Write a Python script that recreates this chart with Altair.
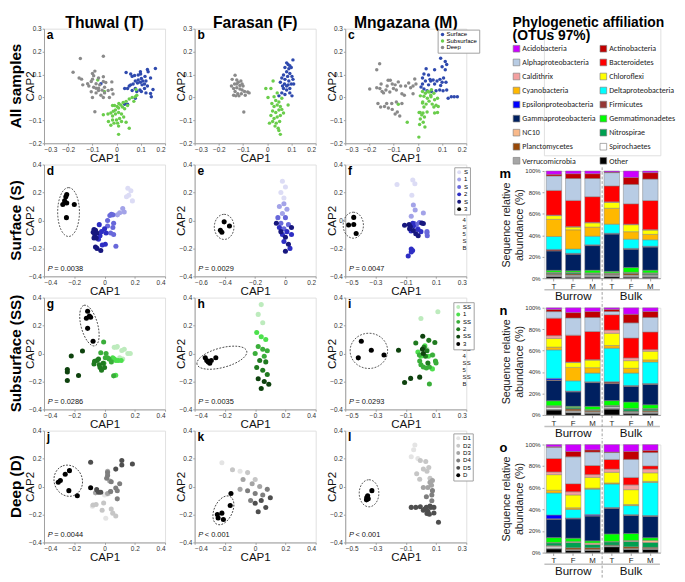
import altair as alt
import pandas as pd

FONT = "Liberation Sans"
NARROW = "Liberation Sans Narrow, Carlito, Liberation Sans"

# ---------------- top row: all samples (a, b, c) ----------------
TOP_CLASSES = ["Surface", "Subsurface", "Deep"]
TOP_COLORS = ["#2F4AAE", "#6ACD4B", "#8A8A8A"]

A_SURFACE = [(0.039,0.109),(0.058,0.102),(0.064,0.092),(0.074,0.096),(0.098,0.112),(0.099,0.102),(0.127,0.122),(0.130,0.112),(0.160,0.126),(0.102,0.083),(0.117,0.092),(0.121,0.072),(0.140,0.085),(0.089,0.076),(0.077,0.072),(0.086,0.063),(0.098,0.066),(0.105,0.055),(0.115,0.059),(0.127,0.050),(0.068,0.059),(0.058,0.055),(0.045,0.039),(0.033,0.039),(0.077,0.039),(0.096,0.033),(0.115,0.039),(0.150,0.035),(0.064,0.030),(0.083,0.026),(0.102,0.026),(0.121,0.020),(0.140,0.017),(0.033,-0.030),(0.045,-0.030),(0.077,-0.003),(0.143,0.003),(0.052,0.050),(0.108,0.072),(0.089,0.098),(-0.065,0.060)]
A_SUBSURFACE = [(-0.078,0.076),(-0.051,0.026),(-0.017,-0.035),(-0.009,-0.035),(0.002,-0.039),(0.009,-0.026),(0.017,-0.033),(0.024,-0.042),(0.027,-0.022),(0.039,-0.017),(0.052,-0.007),(0.064,0.0),(0.077,0.003),(0.071,-0.017),(0.045,-0.035),(0.033,-0.049),(0.008,-0.046),(-0.005,-0.055),(-0.014,-0.060),(-0.024,-0.068),(-0.055,-0.075),(-0.036,-0.072),(-0.017,-0.081),(-0.005,-0.072),(0.008,-0.066),(0.020,-0.072),(0.029,-0.085),(0.012,-0.092),(-0.001,-0.098),(-0.017,-0.098),(-0.034,-0.105),(-0.011,-0.112),(0.004,-0.112),(0.020,-0.105),(0.039,-0.108),(-0.024,-0.121),(0.008,-0.125),(0.052,-0.134),(0.008,-0.161),(0.083,0.010),(0.080,0.035)]
A_DEEP = [(-0.15,0.17),(-0.055,0.18),(-0.18,0.11),(-0.155,0.085),(-0.145,0.08),(-0.14,0.055),(-0.1,0.105),(-0.09,0.115),(-0.095,0.095),(-0.1,0.08),(-0.105,0.07),(-0.075,0.085),(-0.055,0.09),(-0.055,0.07),(-0.045,0.065),(-0.02,0.068),(-0.115,0.05),(-0.095,0.045),(-0.085,0.04),(-0.075,0.04),(-0.105,0.025),(-0.085,0.02),(-0.075,0.03),(-0.06,0.032),(-0.05,0.02),(-0.085,0.06),(-0.07,0.055),(-0.035,0.03),(-0.02,0.035),(-0.015,0.015),(-0.1,0.0),(-0.055,0.0),(-0.09,-0.062),(-0.065,0.01),(-0.12,0.06),(-0.03,0.0),(-0.05,0.045)]

B_SURFACE = [(0.080,0.151),(0.086,0.144),(0.093,0.138),(0.106,0.164),(0.073,0.131),(0.089,0.125),(0.099,0.131),(0.080,0.112),(0.093,0.105),(0.067,0.098),(0.084,0.092),(0.102,0.092),(0.060,0.085),(0.073,0.079),(0.089,0.072),(0.106,0.079),(0.054,0.066),(0.071,0.059),(0.086,0.055),(0.099,0.059),(0.067,0.039),(0.080,0.033),(0.093,0.039),(0.109,0.059),(0.060,0.020),(0.073,0.013),(0.093,0.020),(0.048,0.007),(0.102,0.007),(0.080,0.050),(0.063,0.050)]
B_SUBSURFACE = [(-0.006,0.039),(0.024,0.072),(0.015,0.039),(0.003,0.0),(0.028,0.003),(0.041,0.020),(0.035,-0.013),(0.048,-0.020),(0.060,-0.003),(0.019,-0.026),(0.028,-0.039),(0.041,-0.033),(0.054,-0.039),(0.022,-0.059),(0.035,-0.066),(0.048,-0.055),(0.060,-0.052),(0.086,-0.033),(0.015,-0.079),(0.028,-0.092),(0.041,-0.085),(0.054,-0.079),(0.067,-0.068),(0.022,-0.105),(0.037,-0.112),(0.051,-0.105),(0.032,-0.125),(0.045,-0.134),(0.054,-0.161),(0.048,-0.144),(0.009,-0.112)]
B_DEEP = [(-0.133,0.097),(-0.145,0.079),(-0.126,0.076),(-0.135,0.059),(-0.120,0.066),(-0.113,0.052),(-0.148,0.050),(-0.139,0.039),(-0.126,0.042),(-0.113,0.037),(-0.104,0.033),(-0.094,0.026),(-0.081,0.024),(-0.133,0.026),(-0.122,0.016),(-0.139,0.010),(-0.107,0.016),(-0.091,0.010),(-0.075,0.020),(-0.100,0.050),(-0.109,0.072),(-0.130,0.007),(-0.117,0.007),(-0.097,-0.063),(-0.126,0.059),(-0.104,0.059)]

C_SURFACE = [(0.094,0.171),(0.113,0.157),(0.119,0.144),(0.100,0.134),(0.113,0.121),(0.069,0.121),(0.044,0.098),(0.025,0.102),(0.050,0.079),(0.063,0.076),(0.079,0.072),(0.091,0.079),(0.106,0.085),(0.100,0.066),(0.116,0.066),(0.069,0.059),(0.044,0.055),(0.031,0.072),(0.019,0.059),(0.013,0.046),(0.025,0.037),(0.038,0.029),(0.056,0.026),(0.075,0.029),(0.090,0.033),(0.104,0.029),(0.119,0.033),(0.138,0.003),(0.150,0.003),(0.163,0.003),(0.125,-0.003),(0.094,0.052),(0.019,0.085),(0.034,0.125),(0.053,0.072)]
C_SUBSURFACE = [(0.019,0.026),(0.031,0.018),(0.046,0.024),(0.056,0.034),(0.066,0.018),(0.025,0.005),(0.039,-0.003),(0.054,0.003),(0.069,-0.010),(0.081,-0.003),(0.019,-0.024),(0.034,-0.029),(0.046,-0.016),(0.059,-0.029),(0.075,-0.034),(0.066,-0.042),(0.084,-0.039),(0.025,-0.042),(0.009,-0.066),(0.021,-0.068),(0.038,-0.063),(0.069,-0.068),(0.081,-0.066),(0.010,0.007),(0.020,-0.020),(0.005,-0.066),(0.016,-0.076),(0.027,-0.085),(0.010,-0.094),(0.022,-0.108),(0.007,-0.118),(0.029,-0.129),(0.004,-0.173),(-0.044,-0.108),(-0.081,-0.030),(0.053,0.010),(0.041,0.026)]
C_DEEP = [(-0.158,0.147),(-0.170,0.121),(-0.199,0.037),(-0.170,0.042),(-0.157,0.039),(-0.148,0.026),(-0.152,0.059),(-0.123,0.075),(-0.114,0.075),(-0.106,0.059),(-0.127,0.050),(-0.142,0.020),(-0.132,0.033),(-0.116,0.024),(-0.101,0.039),(-0.094,0.055),(-0.081,0.068),(-0.089,0.033),(-0.071,0.050),(-0.066,0.016),(-0.056,0.010),(-0.051,0.050),(-0.038,0.063),(-0.030,0.042),(-0.020,0.050),(-0.013,0.081),(-0.008,0.059),(-0.020,0.016),(-0.165,-0.026),(-0.154,-0.042),(-0.129,-0.026),(-0.122,-0.046),(-0.108,-0.026),(-0.089,-0.020),(-0.066,-0.026),(-0.085,-0.063),(-0.094,-0.072),(-0.075,-0.081),(-0.106,-0.052),(-0.138,-0.039)]

# ---------------- surface rows (d, e, f) ----------------
S_CLASSES = ["S1", "S2", "S3", "S4", "S5", "SB"]
S_COLORS = ["#DCDCF5", "#A3A3E8", "#6868DA", "#2E2EC4", "#17177E", "#000000"]
D_S = {
    "S1": [(0.154,0.230),(0.174,0.213),(0.16,0.18),(0.184,0.14),(0.145,0.17)],
    "S2": [(0.12,0.085),(0.10,0.055),(0.085,0.04),(0.13,0.06)],
    "S3": [(0.045,0.045),(0.035,0.035),(0.055,0.04),(0.02,0.0),(0.06,-0.02),(0.055,-0.05),(0.04,-0.09),(0.06,-0.1),(0.075,-0.185),(0.02,-0.04)],
    "S4": [(0.0,-0.06),(-0.02,-0.08),(0.01,-0.09),(-0.03,-0.11),(-0.04,-0.135),(0.005,-0.17),(-0.015,-0.175),(-0.035,-0.03)],
    "S5": [(-0.07,-0.065),(-0.06,-0.07),(-0.075,-0.085),(-0.05,-0.09),(-0.065,-0.1),(-0.055,-0.125),(-0.07,-0.125),(-0.05,-0.2),(-0.025,-0.215),(-0.06,-0.19)],
    "SB": [(-0.25,0.186),(-0.256,0.169),(-0.264,0.140),(-0.276,0.114),(-0.25,0.125),(-0.2,0.114),(-0.252,0.020)],
}
E_S = {
    "S1": [(-0.02,0.28),(0.0,0.24),(-0.03,0.2),(-0.01,0.16)],
    "S2": [(-0.01,0.12),(-0.04,0.1),(0.01,0.08),(-0.02,0.05)],
    "S3": [(-0.05,0.02),(0.0,0.02),(-0.03,-0.02),(0.02,-0.03),(-0.01,-0.06)],
    "S4": [(-0.04,-0.05),(0.01,-0.08),(-0.02,-0.1),(0.04,-0.1),(-0.01,-0.15),(0.03,-0.2)],
    "S5": [(-0.06,-0.02),(-0.03,-0.08),(0.0,-0.12),(0.02,-0.17),(0.0,-0.22),(0.04,-0.05)],
    "SB": [(-0.405,-0.01),(-0.43,-0.07),(-0.42,-0.085),(-0.37,-0.04)],
}
F_S = {
    "S1": [(-0.158,0.257),(-0.054,0.289),(-0.04,0.263),(-0.06,0.180)],
    "S2": [(-0.05,0.110),(-0.038,0.075),(-0.064,0.03),(0.016,0.053)],
    "S3": [(-0.044,-0.022),(-0.03,-0.03),(-0.01,-0.015),(0.04,-0.079),(0.042,-0.110),(-0.02,-0.06),(0.04,-0.09)],
    "S4": [(-0.054,-0.02),(-0.05,-0.04),(-0.065,-0.075),(-0.02,-0.065),(-0.064,-0.204),(-0.055,-0.215),(-0.064,-0.226),(-0.084,-0.254),(0.0,-0.08)],
    "S5": [(-0.108,-0.035),(-0.078,-0.029),(-0.07,-0.045),(-0.05,-0.072),(0.006,-0.018),(0.016,-0.022),(-0.018,-0.110),(-0.034,-0.095),(-0.075,-0.06)],
    "SB": [(-0.444,0.022),(-0.478,-0.033),(-0.444,-0.029),(-0.428,-0.094)],
}

# ---------------- subsurface rows (g, h, i) ----------------
SS_CLASSES = ["SS1", "SS2", "SS3", "SS4", "SS5", "SSB"]
SS_COLORS = ["#BDEBBD", "#4CE04C", "#3AAE3A", "#1F7A1F", "#0E420E", "#000000"]
G_SS = {
    "SS1": [(0.064,0.044),(0.084,0.05),(0.114,0.022),(0.13,0.03),(0.154,0.0),(0.12,-0.04),(0.1,-0.03),(0.17,0.0),(0.08,0.045)],
    "SS2": [(0.054,-0.03),(0.074,-0.155),(0.075,-0.05),(0.065,-0.04),(0.09,-0.05),(0.11,-0.05)],
    "SS3": [(-0.006,0.083),(0.01,0.0),(-0.025,0.005),(0.005,-0.03),(0.03,-0.04),(0.045,-0.06),(-0.005,-0.07),(0.06,-0.16),(0.02,-0.03)],
    "SS4": [(-0.066,-0.055),(-0.05,-0.05),(-0.035,-0.08),(-0.03,-0.1),(-0.01,-0.07),(-0.04,-0.04),(0.0,-0.1),(-0.02,-0.12),(-0.07,-0.075)],
    "SS5": [(-0.22,-0.018),(-0.146,0.018),(-0.246,-0.114),(-0.246,-0.132),(-0.246,-0.193),(-0.172,-0.158)],
    "SSB": [(-0.112,0.303),(-0.1,0.268),(-0.12,0.252),(-0.092,0.259),(-0.112,0.180),(-0.076,0.088)],
}
H_SS = {
    "SS1": [(0.04,0.35),(0.02,0.28),(0.05,0.22)],
    "SS2": [(0.01,0.15),(0.04,0.12),(0.07,0.1)],
    "SS3": [(0.02,0.05),(0.05,0.03),(0.08,0.02),(0.0,0.0),(0.06,-0.02)],
    "SS4": [(0.03,-0.05),(0.07,-0.06),(0.01,-0.1),(0.05,-0.12),(0.08,-0.15)],
    "SS5": [(0.02,-0.18),(0.06,-0.2),(0.04,-0.25),(0.09,-0.22)],
    "SSB": [(-0.33,-0.03),(-0.32,-0.05),(-0.31,-0.06),(-0.30,-0.07),(-0.29,-0.05),(-0.26,-0.03)],
}
I_SS = {
    "SS1": [(0.0,0.25),(0.112,0.299),(0.04,0.03),(0.08,-0.01)],
    "SS2": [(0.0,-0.02),(0.026,0.055),(0.05,-0.02),(0.076,-0.11),(-0.02,0.01)],
    "SS3": [(-0.008,-0.053),(0.0,-0.08),(0.016,-0.097),(0.036,-0.103),(0.056,-0.097),(0.096,-0.053),(0.1,-0.068),(0.056,-0.218),(-0.01,-0.01),(0.076,-0.01)],
    "SS4": [(-0.034,0.075),(0.052,0.094),(0.092,0.079),(0.02,0.045),(0.046,-0.068),(0.03,-0.02),(0.04,0.02)],
    "SS5": [(-0.148,0.024),(-0.108,-0.207),(-0.068,-0.178),(-0.008,-0.169),(0.012,0.123),(0.016,0.0),(0.01,0.03)],
    "SSB": [(-0.394,0.088),(-0.328,0.024),(-0.414,-0.031),(-0.244,-0.011)],
}

# ---------------- deep rows (j, k, l) ----------------
D_CLASSES = ["D1", "D2", "D3", "D4", "D5", "DB"]
D_COLORS = ["#E4E4E4", "#C6C6C6", "#A4A4A4", "#7E7E7E", "#4E4E4E", "#000000"]
J_D = {
    "D1": [(0.008,-0.226),(0.014,-0.057),(0.03,-0.05),(-0.08,-0.14),(0.0,-0.06)],
    "D2": [(-0.076,-0.132),(-0.056,-0.128),(-0.006,-0.118),(-0.016,-0.17),(0.044,-0.16),(0.054,-0.19),(0.074,-0.211)],
    "D3": [(0.02,0.11),(0.034,0.04),(0.04,-0.035),(0.02,-0.05),(-0.06,-0.045)],
    "D4": [(0.014,0.059),(0.02,0.1),(0.02,0.08),(0.044,0.035),(0.074,-0.01),(0.084,-0.03),(0.1,0.02),(0.084,-0.088),(0.04,-0.035)],
    "D5": [(-0.092,0.174),(0.074,0.125),(0.114,0.187),(0.114,0.155),(0.184,0.162),(-0.052,-0.022),(-0.04,-0.04),(-0.025,-0.04)],
    "DB": [(-0.306,0.031),(-0.292,0.044),(-0.26,0.088),(-0.232,0.114),(-0.236,-0.029),(-0.18,-0.066),(-0.092,-0.009)],
}
K_D = {
    "D1": [(-0.22,0.17),(-0.1,0.11)],
    "D2": [(-0.15,0.12),(-0.05,0.1),(0.0,0.05)],
    "D3": [(-0.08,0.05),(-0.02,0.02),(0.03,0.0),(-0.1,-0.02)],
    "D4": [(-0.05,-0.03),(0.0,-0.05),(0.05,-0.06),(0.08,-0.02),(-0.03,-0.1)],
    "D5": [(0.0,-0.12),(0.04,-0.1),(0.07,-0.15),(0.02,-0.18),(0.1,-0.08)],
    "DB": [(-0.25,-0.2),(-0.245,-0.225),(-0.22,-0.19),(-0.21,-0.235),(-0.16,-0.05),(-0.165,-0.135)],
}
L_D = {
    "D1": [(-0.04,0.297),(-0.048,0.264),(-0.064,0.213),(-0.02,0.2)],
    "D2": [(-0.004,0.187),(0.032,0.180),(-0.028,0.092),(0.016,0.125),(0.052,0.136),(0.04,0.11),(-0.008,0.053),(0.06,0.059)],
    "D3": [(0.076,0.044),(0.016,-0.007),(0.046,-0.007),(0.07,0.01),(0.06,0.03)],
    "D4": [(0.076,-0.029),(0.036,-0.073),(0.072,-0.101),(0.072,-0.06)],
    "D5": [(-0.064,-0.149),(-0.034,-0.149),(-0.004,-0.145),(0.026,-0.16),(0.036,-0.149),(0.046,-0.176),(0.066,-0.149),(0.086,-0.149),(0.04,-0.193),(0.056,-0.198),(0.086,-0.189),(0.116,-0.255),(0.016,-0.17),(0.06,-0.14)],
    "DB": [(-0.358,-0.079),(-0.348,-0.088),(-0.36,-0.095),(-0.324,-0.029),(-0.352,-0.066)],
}

# ---------------- bar charts (m, n, o) ----------------
TAXA = ["Acidobacteria", "Actinobacteria", "Alphaproteobacteria", "Bacteroidetes", "Caldithrix",
        "Chloroflexi", "Cyanobacteria", "Deltaproteobacteria", "Epsilonproteobacteria", "Firmicutes",
        "Gammaproteobacteria", "Gemmatimonadetes", "NC10", "Nitrospirae", "Planctomycetes",
        "Spirochaetes", "Verrucomicrobia", "Other"]
TAXA_COLORS = ["#CC00FF", "#C00000", "#B8CCE4", "#FF0000", "#F4A0A0", "#FFFF00", "#FFB800", "#00FFFF",
               "#0000FF", "#953735", "#002060", "#00FF00", "#F9B98A", "#00A050", "#984807", "#FFFFFF",
               "#A6A6A6", "#000000"]
STACK = list(reversed(TAXA))  # bottom -> top
SAMPLES = ["T1", "F1", "M1", "T2", "F2", "M2"]  # burrow T F M, bulk T F M
# values per sample, in STACK order (Other ... Acidobacteria), percent
M_VALUES = [
    [1.5,1.5,0.5,0.8,0.8,0.5,1.8,18,1.2,0.3,12,16,3.5,0.5,23,13.5,1.5,3.1],
    [1,1.5,0.5,1,1,0.5,1.5,15.5,0.5,0.3,4,18,2.5,0.5,24.5,20.5,4.5,2.5],
    [1,1.5,0.5,0.5,1,0.5,2.5,23,0.5,0.3,8,8.5,4,0.5,24,17,4.5,2.5],
    [1.5,1.5,0.5,0.5,0.5,0.5,1.5,35,0.5,0.3,8.5,15,5.5,0.5,15,12.5,0.5,1],
    [1,1.5,0.5,1.5,0.5,0.5,4.5,17,0.5,0.3,8.5,7,6.5,0.5,19,18,6.5,6],
    [1,1.5,0.5,0.5,1,0.5,2.5,21.5,0.5,0.3,6,5,4,0.5,27,20,6,1.5],
]
N_VALUES = [
    [4.5,1,1.5,0.5,0.5,0.5,4.5,18.5,0.5,1.5,26,2.5,8,2.5,16,6,2,1.5],
    [2,1.5,0.5,1.5,1,0.5,1,13.5,0.5,0.3,9.5,12.5,4.5,0.5,25,16,5,4.5],
    [1.5,1,0.5,1,0.5,0.5,3,22,0.5,0.3,8,5,7,0.5,26,13,5.5,3.5],
    [5.5,1,1,0.5,0.5,0.5,4.5,16,1.5,0.3,31.5,2.5,11.5,3,14.5,3,2,1.5],
    [1.5,1,0.5,0.5,2,0.5,6,14.5,0.5,0.3,11.5,4.5,7,2.5,18.5,14,8,6],
    [1.5,1,0.5,1,1.5,0.5,3.5,19,0.5,0.3,20,2,8,1.5,16.5,13.5,5.5,3.5],
]
O_VALUES = [
    [3.5,1,1.5,0.5,2.5,0.5,4.5,17,0.5,3.5,20.5,2.5,14.5,2.5,12.5,10.5,0.5,2],
    [2,0.5,0.5,1.5,5,1,3,18,0.5,0.3,8,1.5,12,3,7.5,25,5,6.5],
    [2,0.5,0.5,1.5,3,1.5,2,23,0.5,1,23.5,1,10,2.5,8.5,12.5,2,5],
    [5.5,0.5,0.5,0.5,3,0.5,7,24,0.5,0.3,22,1,10,3,9,6.5,0.5,7],
    [3,0.5,0.5,1.5,5,1,6.5,17,0.5,0.3,8.5,1,14,4.5,7,17,7.5,6.5],
    [3,0.5,0.5,1,4.5,2,2.5,20,0.5,0.3,31,1,8,3.5,3,12.5,2,5.5],
]

# ---------------- layout constants ----------------
W = 131
H1 = 124
H = 121
BW = 126
PT_TOP = 14
PT = 30
TICK_TOP_X = [-0.3, -0.2, -0.1, 0, 0.1, 0.2]
TICK_TOP_Y = [-0.2, -0.1, 0, 0.1, 0.2, 0.3]
T4 = [-0.4, -0.2, 0, 0.2, 0.4]
T5 = [-0.5, -0.3, -0.1, 0.1, 0.3]
T6 = [-0.6, -0.4, -0.2, 0, 0.2]


def ellipse_path(r):
    return f"M -1 0 A 1 {r:.3f} 0 1 1 1 0 A 1 {r:.3f} 0 1 1 -1 0 Z"


def scatter(groups, classes, colors, xdom, xticks, ydom, yticks, letter, h, psize,
            pval=None, ellipse=None, legend=None, overflow=None, coltitle=None, rowlabel=None):
    rows = [(x, y, c) for c in classes for (x, y) in groups.get(c, [])]
    df = pd.DataFrame(rows, columns=["x", "y", "cls"])
    xs = alt.Scale(domain=xdom, nice=False, zero=False)
    ys = alt.Scale(domain=ydom, nice=False, zero=False)
    xaxis = alt.Axis(values=xticks, format=".1~f", title="CAP1", grid=False, tickSize=2,
                     labelPadding=1, labelFontSize=7, titleFontSize=12.5, titlePadding=0,
                     titleFontWeight="normal", domainColor="#9a9a9a", tickColor="#9a9a9a",
                     labelColor="#333333", titleColor="#111111", labelFont=FONT, titleFont=FONT)
    yaxis = alt.Axis(values=yticks, format=".1~f", title="CAP2", grid=False, tickSize=2,
                     labelPadding=1, labelFontSize=7, titleFontSize=12.5, titleX=-8,
                     titleFontWeight="normal", domainColor="#9a9a9a", tickColor="#9a9a9a",
                     labelColor="#333333", titleColor="#111111", labelFont=FONT, titleFont=FONT)
    pts = alt.Chart(df).mark_circle(size=psize, opacity=1).encode(
        x=alt.X("x:Q", scale=xs, axis=xaxis),
        y=alt.Y("y:Q", scale=ys, axis=yaxis),
        color=alt.Color("cls:N", scale=alt.Scale(domain=classes, range=colors), legend=legend),
    )
    layers = [pts]
    if ellipse is not None:
        cx, cy, sx, sy, tilt = ellipse
        a = sx * W / (xdom[1] - xdom[0])
        b = sy * h / (ydom[1] - ydom[0])
        if a >= b:
            shape, size, ang = ellipse_path(b / a), (2 * a) ** 2, tilt % 360
        else:
            shape, size, ang = ellipse_path(a / b), (2 * b) ** 2, (90 + tilt) % 360
        edf = pd.DataFrame([{"x": cx, "y": cy, "shape": shape, "size": size, "ang": ang}])
        layers.append(alt.Chart(edf).mark_point(filled=False, color="#222222", strokeWidth=0.8,
                                                strokeDash=[2, 1.5], opacity=1).encode(
            x=alt.X("x:Q", scale=xs, axis=xaxis),
            y=alt.Y("y:Q", scale=ys, axis=yaxis),
            shape=alt.Shape("shape:N", scale=None),
            size=alt.Size("size:Q", scale=None),
            angle=alt.Angle("ang:Q", scale=None),
        ))
    one = pd.DataFrame({"t": [letter]})
    layers.append(alt.Chart(one).mark_text(align="left", baseline="top", fontSize=13,
                                           fontWeight="bold", font=FONT, color="black").encode(
        x=alt.value(3), y=alt.value(1), text="t:N"))
    if pval is not None:
        pdf = pd.DataFrame({"t": [pval]})
        layers.append(alt.Chart(pd.DataFrame({"t": ["P"]})).mark_text(
            align="left", baseline="bottom", fontSize=8, fontStyle="italic", font=FONT, color="#111").encode(
            x=alt.value(4), y=alt.value(h - 4), text="t:N"))
        layers.append(alt.Chart(pdf).mark_text(
            align="left", baseline="bottom", fontSize=8, font=FONT, color="#111").encode(
            x=alt.value(11), y=alt.value(h - 4), text="t:N"))
    if overflow is not None:
        txt, ox, oy = overflow
        layers.append(alt.Chart(pd.DataFrame({"t": [txt]})).mark_text(
            align="left", baseline="top", fontSize=6.5, font=FONT, lineBreak="\n", lineHeight=7.6,
            color="#222").encode(x=alt.value(ox), y=alt.value(oy), text="t:N"))
    if rowlabel is not None:
        layers.append(alt.Chart(pd.DataFrame({"t": [rowlabel]})).mark_text(
            angle=270, fontSize=16.5, fontWeight="bold", font=FONT, baseline="middle", align="center",
            color="black").encode(x=alt.value(-30), y=alt.value(h / 2), text="t:N"))
    if coltitle is not None:
        layers.append(alt.Chart(pd.DataFrame({"t": [coltitle]})).mark_text(
            fontSize=17, fontWeight="bold", font=FONT, baseline="bottom", align="center",
            color="black").encode(x=alt.value(W / 2), y=alt.value(3), text="t:N"))
    return alt.layer(*layers).properties(width=W, height=h)


def small_legend(labels_map, lx, ly, classes):
    expr = "[" + ",".join(f"'{labels_map[c]}'" for c in classes) + "][indexof([" + \
        ",".join(f"'{c}'" for c in classes) + "], datum.label)]"
    return alt.Legend(orient="none", legendX=lx, legendY=ly, title=None, symbolSize=18,
                      symbolType="circle", labelFontSize=6.5, labelFont=FONT, padding=2,
                      strokeColor="#9a9a9a", rowPadding=1, labelOffset=2, fillColor="white",
                      labelExpr=expr, symbolStrokeWidth=0)


def bars(values, letter, h, ext=26):
    rows = []
    for s, vals in zip(SAMPLES, values):
        for t, v in zip(STACK, vals):
            rows.append({"s": s, "taxon": t, "v": v, "rank": TAXA.index(t)})
    df = pd.DataFrame(rows)
    pin, pout = 0.2, 0.12
    xscale = alt.Scale(domain=SAMPLES, paddingInner=pin, paddingOuter=pout)
    xaxis = alt.Axis(title=None, labelAngle=0, labelExpr="substring(datum.label,0,1)",
                     labelFontSize=8.5, tickSize=3, labelPadding=1, domainColor="#9a9a9a",
                     tickColor="#9a9a9a", labelColor="#222", labelFont=FONT, ticks=True)
    b = alt.Chart(df).mark_bar(stroke="#7f7f7f", strokeWidth=0.5).encode(
        x=alt.X("s:N", sort=SAMPLES, scale=xscale, axis=xaxis),
        y=alt.Y("v:Q", stack="normalize",
                axis=alt.Axis(format="%", values=[0, 0.2, 0.4, 0.6, 0.8, 1.0],
                              title=["Sequence relative", "abundance (%)"], labelFontSize=6.5,
                              titleFontSize=11.5, titleFontWeight="normal", grid=False, domain=False,
                              tickSize=2, tickColor="#9a9a9a", titlePadding=1, labelColor="#333",
                              titleColor="#222", labelFont=FONT, titleFont=FONT, titleLineHeight=14)),
        color=alt.Color("taxon:N", scale=alt.Scale(domain=TAXA, range=TAXA_COLORS), legend=None),
        order=alt.Order("rank:Q", sort="descending"),
    )
    step = BW / (6 - pin + 2 * pout)
    bandw = step * (1 - pin)
    x0 = step * pout
    segs = pd.DataFrame([
        {"a": x0 - 2, "b": x0 + 2 * step + bandw + 2},
        {"a": x0 + 3 * step - 2, "b": x0 + 5 * step + bandw + 2},
    ])
    under = alt.Chart(segs).mark_rule(color="#c0c0c0", strokeWidth=1.6).encode(
        x=alt.X("a:Q", scale=None), x2="b:Q", y=alt.value(h + 12.5))
    gdf = pd.DataFrame({"s": ["F1", "F2"], "g": ["Burrow", "Bulk"]})
    glab = alt.Chart(gdf).mark_text(fontSize=12.5, font=FONT, baseline="middle", color="#111").encode(
        x=alt.X("s:N", sort=SAMPLES, scale=xscale, axis=xaxis), y=alt.value(h + 20), text="g:N")
    sep = alt.Chart(pd.DataFrame({"k": [0]})).mark_rule(color="#8c8c8c", strokeWidth=0.9,
                                                         strokeDash=[3, 2]).encode(
        x=alt.value(BW / 2), y=alt.value(-4), y2=alt.value(h + ext))
    lt = alt.Chart(pd.DataFrame({"t": [letter]})).mark_text(
        align="left", baseline="top", fontSize=14, fontWeight="bold", font=FONT, color="black").encode(
        x=alt.value(-48), y=alt.value(-3), text="t:N")
    return alt.layer(b, under, glab, sep, lt).properties(width=BW, height=h)


def legend_block(h):
    leg = alt.Legend(orient="none", legendX=-34, legendY=17, columns=2, direction="horizontal",
                     title=None, labelFont=NARROW, labelFontSize=8.6, labelColor="#222",
                     symbolType="square", symbolSize=52, symbolStrokeColor="#808080",
                     symbolStrokeWidth=0.7, rowPadding=4.2, columnPadding=3, labelOffset=2,
                     labelLimit=120, padding=0, symbolOpacity=1)
    sq = alt.Chart(pd.DataFrame({"taxon": TAXA})).mark_square(opacity=0, size=1).encode(
        color=alt.Color("taxon:N", scale=alt.Scale(domain=TAXA, range=TAXA_COLORS), legend=leg))
    t1 = alt.Chart(pd.DataFrame({"t": ["Phylogenetic affiliation"]})).mark_text(
        align="left", baseline="top", fontSize=15, fontWeight="bold", font=FONT, color="black").encode(
        x=alt.value(-34), y=alt.value(-14), text="t:N")
    t2 = alt.Chart(pd.DataFrame({"t": ["(OTUs 97%)"]})).mark_text(
        align="left", baseline="top", fontSize=15, fontWeight="bold", font=FONT, color="black").encode(
        x=alt.value(-34), y=alt.value(0), text="t:N")
    return alt.layer(sq, t1, t2).properties(width=BW, height=h)


# ---------------- panels ----------------
TOP_LEG = alt.Legend(orient="none", legendX=W - 31, legendY=1, title=None, symbolSize=14,
                     symbolType="circle", labelFontSize=6.5, labelFont=FONT, padding=2,
                     strokeColor="#9a9a9a", rowPadding=0, labelOffset=1, fillColor="white",
                     symbolStrokeWidth=0)

pa = scatter({"Surface": A_SURFACE, "Subsurface": A_SUBSURFACE, "Deep": A_DEEP}, TOP_CLASSES, TOP_COLORS,
             [-0.3, 0.2], TICK_TOP_X, [-0.2, 0.3], TICK_TOP_Y, "a", H1, PT_TOP,
             coltitle="Thuwal (T)", rowlabel="All samples")
pb = scatter({"Surface": B_SURFACE, "Subsurface": B_SUBSURFACE, "Deep": B_DEEP}, TOP_CLASSES, TOP_COLORS,
             [-0.3, 0.2], TICK_TOP_X, [-0.2, 0.3], TICK_TOP_Y, "b", H1, PT_TOP,
             coltitle="Farasan (F)")
pc = scatter({"Surface": C_SURFACE, "Subsurface": C_SUBSURFACE, "Deep": C_DEEP}, TOP_CLASSES, TOP_COLORS,
             [-0.3, 0.2], TICK_TOP_X, [-0.2, 0.3], TICK_TOP_Y, "c", H1, PT_TOP,
             coltitle="Mngazana (M)", legend=TOP_LEG)

S_LAB = {"S1": "S", "S2": "1", "S3": "S", "S4": "2", "S5": "S", "SB": "3"}
SS_LAB = {"SS1": "SS", "SS2": "1", "SS3": "SS", "SS4": "2", "SS5": "SS", "SSB": "3"}
D_LAB = {"D1": "D1", "D2": "D2", "D3": "D3", "D4": "D4", "D5": "D5", "DB": "D"}

pd_ = scatter(D_S, S_CLASSES, S_COLORS, [-0.4, 0.4], T4, [-0.4, 0.4], T4, "d", H, PT,
              pval=" = 0.0038", ellipse=(-0.238, 0.06, 0.072, 0.175, 0), rowlabel="Surface (S)")
pe = scatter(E_S, S_CLASSES, S_COLORS, [-0.6, 0.2], T6, [-0.4, 0.4], T4, "e", H, PT,
             pval=" = 0.0029", ellipse=(-0.405, -0.046, 0.065, 0.09, 0))
pf = scatter(F_S, S_CLASSES, S_COLORS, [-0.5, 0.3], T5, [-0.4, 0.4], T4, "f", H, PT,
             pval=" = 0.0047", ellipse=(-0.447, -0.034, 0.067, 0.093, 0),
             legend=small_legend(S_LAB, W - 13, 3, S_CLASSES),
             overflow=("S\n4\nS\n5\nS\nB", W - 4, 50))
pg = scatter(G_SS, SS_CLASSES, SS_COLORS, [-0.4, 0.4], T4, [-0.4, 0.4], T4, "g", H, PT,
             pval=" = 0.0286", ellipse=(-0.1, 0.2, 0.055, 0.15, -15), rowlabel="Subsurface (SS)")
ph = scatter(H_SS, SS_CLASSES, SS_COLORS, [-0.4, 0.4], T4, [-0.4, 0.4], T4, "h", H, PT,
             pval=" = 0.0035", ellipse=(-0.22, -0.03, 0.17, 0.07, -15))
pi = scatter(I_SS, SS_CLASSES, SS_COLORS, [-0.5, 0.3], T5, [-0.4, 0.4], T4, "i", H, PT,
             pval=" = 0.0293", ellipse=(-0.344, 0.019, 0.124, 0.126, 0),
             legend=small_legend(SS_LAB, W - 14, 5, SS_CLASSES),
             overflow=("SS\n4\nSS\n5\nSS\nB", W - 4, 53))
pj = scatter(J_D, D_CLASSES, D_COLORS, [-0.4, 0.4], T4, [-0.4, 0.4], T4, "j", H, PT,
             pval=" = 0.0044", ellipse=(-0.24, 0.042, 0.093, 0.113, -20), rowlabel="Deep (D)")
pk = scatter(K_D, D_CLASSES, D_COLORS, [-0.4, 0.4], T4, [-0.4, 0.4], T4, "k", H, PT,
             pval=" < 0.001", ellipse=(-0.21, -0.17, 0.06, 0.11, 25))
pl = scatter(L_D, D_CLASSES, D_COLORS, [-0.5, 0.3], T5, [-0.4, 0.4], T4, "l", H, PT,
             pval=" < 0.001", ellipse=(-0.343, -0.048, 0.065, 0.097, 0),
             legend=small_legend(D_LAB, W - 14, 3, D_CLASSES),
             overflow=("B", W - 4, 50))


def row(*charts):
    return alt.hconcat(*charts, spacing=9).resolve_scale(color="independent").resolve_legend(color="independent")


left = alt.vconcat(row(pa, pb, pc), row(pd_, pe, pf), row(pg, ph, pi), row(pj, pk, pl),
                   spacing=-13).resolve_scale(color="independent").resolve_legend(color="independent")

right = alt.vconcat(legend_block(137),
                    bars(M_VALUES, "m", 116),
                    bars(N_VALUES, "n", 116),
                    bars(O_VALUES, "o", 117, ext=28),
                    spacing=0).resolve_scale(color="independent").resolve_legend(color="independent")

chart = alt.hconcat(left, right, spacing=20).resolve_scale(color="independent").resolve_legend(
    color="independent").properties(padding={"top": -18, "left": 0, "right": 0, "bottom": 0}
    ).configure_view(stroke=None).configure(font=FONT, background="white")

chart.save("out.html", embed_options={"renderer": "svg", "actions": False})
